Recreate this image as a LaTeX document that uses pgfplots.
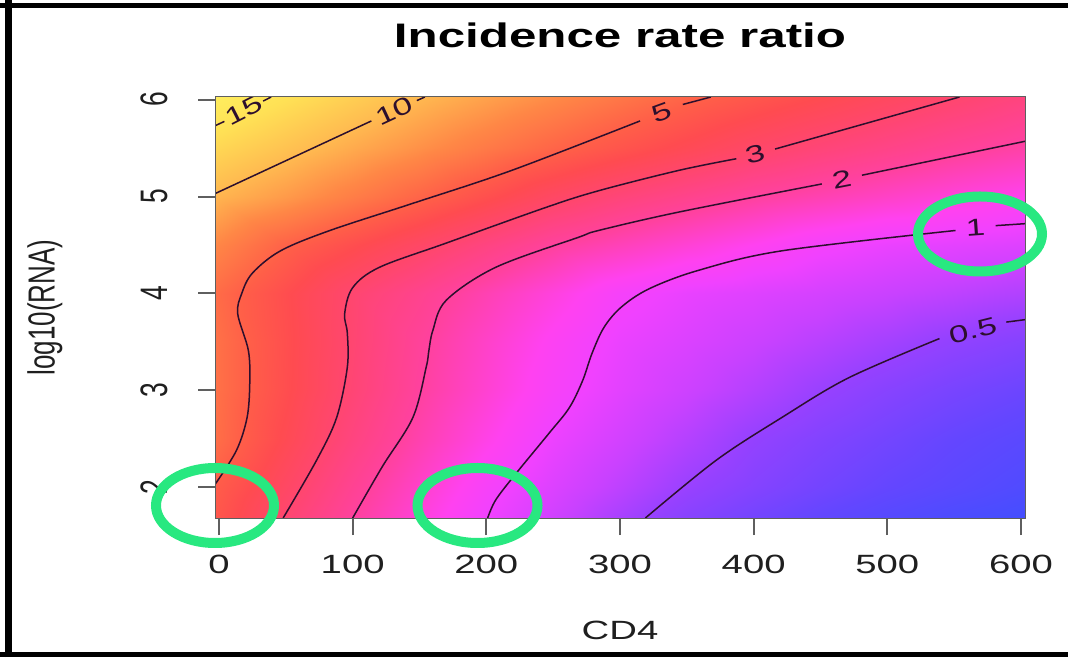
\documentclass[border=0pt]{standalone}
\usepackage{pgfplots}
\pgfplotsset{compat=1.18}
\usepackage{pgfplotstable}
\usepackage{fontspec}
\setmainfont{Liberation Sans}
\newcommand\sx[1]{\scalebox{1.45}[1]{#1}}
\newcommand\sy[1]{\scalebox{1}[1.45]{#1}}
\definecolor{ring}{RGB}{40,232,128}
\definecolor{cline}{RGB}{45,15,45}
\definecolor{tickc}{RGB}{95,95,95}
\tikzset{
  cl/.style={draw=cline, line width=0.75pt, smooth, tension=0.55},
  clab/.style={inner sep=0pt, text=cline, font=\fontsize{12}{13}\selectfont},
}

% log10(incidence rate ratio), on a CD4 x log10(RNA) grid
\pgfplotstableread{
x y L
-3 1.684 0.66
50 1.684 0.47
100 1.684 0.304
150 1.684 0.154
200 1.684 0.003
250 1.684 -0.123
300 1.684 -0.248
350 1.684 -0.36
400 1.684 -0.44
450 1.684 -0.51
500 1.684 -0.57
550 1.684 -0.62
603 1.684 -0.66
-3 2 0.69
50 2 0.52
100 2 0.348
150 2 0.194
200 2 0.045
250 2 -0.075
300 2 -0.183
350 2 -0.29
400 2 -0.37
450 2 -0.44
500 2 -0.50
550 2 -0.55
603 2 -0.60
-3 2.5 0.76
50 2.5 0.585
100 2.5 0.416
150 2.5 0.262
200 2.5 0.123
250 2.5 -0.012
300 2.5 -0.111
350 2.5 -0.21
400 2.5 -0.309
450 2.5 -0.38
500 2.5 -0.44
550 2.5 -0.50
603 2.5 -0.55
-3 3 0.77
50 3 0.613
100 3 0.456
150 3 0.304
200 3 0.176
250 3 0.048
300 3 -0.05
350 3 -0.131
400 3 -0.212
450 3 -0.293
500 3 -0.36
550 3 -0.42
603 3 -0.47
-3 3.5 0.77
50 3.5 0.618
100 3.5 0.468
150 3.5 0.321
200 3.5 0.199
250 3.5 0.081
300 3.5 -0.019
350 3.5 -0.079
400 3.5 -0.139
450 3.5 -0.20
500 3.5 -0.26
550 3.5 -0.32
603 3.5 -0.37
-3 4 0.75
50 4 0.611
100 4 0.475
150 4 0.365
200 4 0.255
250 4 0.146
300 4 0.037
350 4 -0.026
400 4 -0.065
450 4 -0.104
500 4 -0.143
550 4 -0.18
603 4 -0.22
-3 4.5 0.85
50 4.5 0.71
100 4.5 0.613
150 4.5 0.513
200 4.5 0.411
250 4.5 0.309
300 4.5 0.237
350 4.5 0.167
400 4.5 0.097
450 4.5 0.027
500 4.5 -0.02
550 4.5 -0.045
603 4.5 -0.07
-3 5 0.99
50 5 0.906
100 5 0.812
150 5 0.718
200 5 0.621
250 5 0.519
300 5 0.438
350 5 0.371
400 5 0.305
450 5 0.253
500 5 0.202
550 5 0.151
603 5 0.10
-3 5.5 1.114
50 5.5 1.035
100 5.5 0.956
150 5.5 0.878
200 5.5 0.800
250 5.5 0.722
300 5.5 0.648
350 5.5 0.577
400 5.5 0.505
450 5.5 0.444
500 5.5 0.389
550 5.5 0.333
603 5.5 0.28
-3 6.027 1.24
50 6.027 1.156
100 6.027 1.079
150 6.027 1.0
200 6.027 0.931
250 6.027 0.861
300 6.027 0.790
350 6.027 0.720
400 6.027 0.658
450 6.027 0.600
500 6.027 0.541
550 6.027 0.483
603 6.027 0.42
}\irrgrid

\begin{document}
\begin{tikzpicture}
\path[use as bounding box] (0pt,0pt) rectangle (534pt,328.5pt);
\begin{axis}[
  at={(107.5pt,69.5pt)}, anchor=south west,
  scale only axis, width=405pt, height=210.5pt,
  xmin=-3, xmax=603, ymin=1.684, ymax=6.027,
  enlargelimits=false,
  axis on top,
  axis line style={draw=tickc, line width=0.5pt},
  tick align=outside, major tick length=8.5pt,
  tick style={draw=tickc, line width=1pt},
  xtick pos=bottom, ytick pos=left,
  xtick={0,100,200,300,400,500,600},
  xticklabels={\sx{0},\sx{100},\sx{200},\sx{300},\sx{400},\sx{500},\sx{600}},
  ytick={2,3,4,5,6},
  yticklabels={\sy{2},\sy{3},\sy{4},\sy{5},\sy{6}},
  tick label style={font=\fontsize{13.2}{14}\selectfont, text=black!88},
  xticklabel style={anchor=north},
  xticklabel shift=6.5pt,
  yticklabel style={rotate=90, anchor=south},
  yticklabel shift=11.5pt,
  title={\sx{\bfseries Incidence rate ratio}},
  title style={font=\fontsize{17}{18}\selectfont, at={(0.5,1.1187)}, anchor=center},
  xlabel={\sx{CD4}},
  xlabel style={font=\fontsize{13.2}{14}\selectfont, text=black!88, at={(0.5,-0.266)}, anchor=center},
  ylabel={\sy{log10(RNA)}},
  ylabel style={font=\fontsize{13}{14}\selectfont, text=black!88, at={(-0.2099,0.5)}, anchor=center},
  colormap={irr}{
    rgb255(0pt)=(60,80,255)
    rgb255(20pt)=(100,70,255)
    rgb255(40pt)=(150,65,255)
    rgb255(55pt)=(200,65,255)
    rgb255(70pt)=(240,65,255)
    rgb255(80pt)=(255,65,240)
    rgb255(100pt)=(255,65,160)
    rgb255(118pt)=(255,70,110)
    rgb255(130pt)=(255,75,80)
    rgb255(140pt)=(255,95,72)
    rgb255(155pt)=(255,135,70)
    rgb255(170pt)=(255,185,80)
    rgb255(185pt)=(255,225,85)
    rgb255(200pt)=(255,245,100)
  },
  point meta min=-0.7, point meta max=1.3,
]
\addplot[surf, shader=interp, mesh/cols=13, point meta=explicit]
  table[x=x, y=y, meta=L] {\irrgrid};

% IRR = 15
\addplot[cl, no markers] coordinates {(-3,5.73) (4,5.775)};
\addplot[cl, no markers] coordinates {(33,5.985) (39,6.027)};
% IRR = 10
\addplot[cl, no markers] coordinates {(-3,5.03) (114,5.78)};
\addplot[cl, no markers] coordinates {(148,5.99) (154,6.027)};
% IRR = 5
\addplot[cl, no markers] coordinates {(368,6.027) (347,5.95)};
\addplot[cl, no markers] coordinates {(315,5.78) (219,5.27) (145,4.93) (83,4.65) (46,4.44) (25,4.21) (17,4.0) (14,3.79) (22,3.41) (23,3.07) (21,2.72) (13,2.38) (-3,2.03)};
% IRR = 3
\addplot[cl, no markers] coordinates {(554,6.027) (416,5.49)};
\addplot[cl, no markers] coordinates {(387,5.39) (344,5.27) (284,5.06) (245,4.89) (170,4.52) (120,4.27) (100,4.06) (94,3.79) (96,3.59) (96,3.24) (88,2.72) (73,2.28) (48,1.684)};
% IRR = 2
\addplot[cl, no markers] coordinates {(603,5.57) (481,5.22)};
\addplot[cl, no markers] coordinates {(451,5.13) (344,4.84) (284,4.65) (269,4.58) (207,4.27) (170,3.93) (160,3.62) (157,3.41) (155,3.24) (145,2.72) (122,2.21) (100,1.684)};
% IRR = 1
\addplot[cl, no markers] coordinates {(603,4.72) (581,4.70)};
\addplot[cl, no markers] coordinates {(551,4.65) (421,4.44) (359,4.24) (322,4.05) (301,3.86) (288,3.65) (279,3.38) (272,3.10) (262,2.82) (247,2.56) (222,2.14) (207,1.87) (201,1.684)};
% IRR = 0.5
\addplot[cl, no markers] coordinates {(603,3.73) (589,3.705)};
\addplot[cl, no markers] coordinates {(539,3.535) (471,3.13) (421,2.72) (372,2.28) (319,1.684)};

\node[clab, rotate=27] at (axis cs:18.7,5.887) {\sx{15}};
\node[clab, rotate=25] at (axis cs:131,5.887) {\sx{10}};
\node[clab, rotate=20] at (axis cs:331,5.866) {\sx{5}};
\node[clab, rotate=14] at (axis cs:401,5.44) {\sx{3}};
\node[clab, rotate=11] at (axis cs:466,5.175) {\sx{2}};
\node[clab, rotate=4] at (axis cs:566,4.68) {\sx{1}};
\node[clab, rotate=14] at (axis cs:564,3.62) {\sx{0.5}};
\end{axis}

% highlight rings
\draw[ring, line width=5pt] (107.5pt,75.75pt) ellipse [x radius=29.5pt, y radius=18.75pt];
\draw[ring, line width=5pt] (238.75pt,75.75pt) ellipse [x radius=30pt, y radius=18.75pt];
\draw[ring, line width=5pt] (490pt,211.5pt) ellipse [x radius=31pt, y radius=18.75pt];

% outer frame
\draw[line width=3.5pt] (4.25pt,0pt) -- (4.25pt,328.5pt);
\draw[line width=2.75pt] (0pt,325.75pt) -- (534pt,325.75pt);
\draw[line width=2.5pt] (0pt,1.25pt) -- (534pt,1.25pt);
\end{tikzpicture}
\end{document}
